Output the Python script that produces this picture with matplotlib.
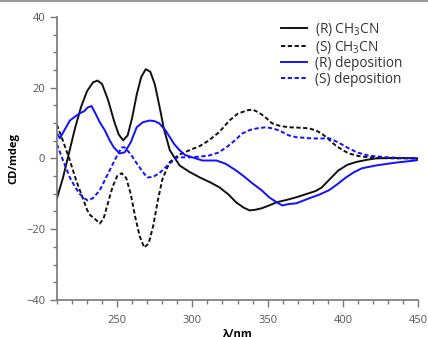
import matplotlib
matplotlib.use("Agg")
import matplotlib.pyplot as plt
from matplotlib.lines import Line2D
from matplotlib.ticker import MultipleLocator

plt.rcParams["font.family"] = ["Open Sans", "DejaVu Sans"]
plt.rcParams["mathtext.fontset"] = "custom"
plt.rcParams["mathtext.rm"] = "Open Sans"

# (R) CH3CN
r_acn_x = [210, 214, 218, 222, 226, 230, 234, 237, 240, 244, 248, 251, 254, 257, 260, 263, 266, 269, 272,
           275, 278, 281, 285, 291.5, 298, 305, 312, 318, 324, 329, 334, 338, 342, 346, 351, 356, 362, 369,
           377, 382, 386, 391, 397, 403, 409, 416, 422, 430, 440, 450]
r_acn_y = [-11.3, -5.5, 1.5, 8.5, 14.5, 19.0, 21.5, 22.0, 21.0, 16.5, 10.5, 6.8, 5.1, 6.5, 11.5, 18.0, 23.0,
           25.2, 24.5, 21.0, 15.0, 8.5, 2.3, -2.0, -3.8, -5.4, -6.8, -8.2, -10.2, -12.4, -13.9, -14.7,
           -14.5, -14.1, -13.3, -12.4, -11.8, -11.0, -9.9, -9.2, -8.2, -6.0, -3.4, -1.8, -1.0, -0.4, 0.0,
           0.1, 0.1, 0.0]

# (S) CH3CN
s_acn_x = [210, 214, 218.6, 223, 227, 230, 232, 235, 238.5, 241, 244, 247, 250, 253, 256, 259, 262, 265,
           268, 271, 274, 277, 280, 284.8, 291, 298, 305, 311, 318, 324.6, 330, 336.5, 340, 344, 348, 353,
           358, 364, 370, 377.5, 382, 386, 390, 395, 400, 404, 410, 417, 425, 435, 450]
s_acn_y = [9.5, 5.0, -0.6, -6.5, -11.0, -14.5, -16.0, -17.0, -18.4, -17.0, -12.5, -8.0, -5.0, -4.2, -5.5,
           -10.0, -16.5, -22.0, -25.2, -24.0, -19.0, -12.0, -6.0, -1.1, 1.0, 2.3, 3.5, 5.1, 7.5, 10.7, 12.6,
           13.6, 13.8, 13.0, 11.8, 9.9, 9.2, 8.8, 8.7, 8.5, 7.9, 7.0, 5.6, 3.7, 2.3, 1.4, 0.7, 0.3, 0.1, 0.0,
           0.0]

# (R) deposition
r_dep_x = [210, 212, 215, 218.6, 222, 225, 228, 230.5, 233, 235, 238.5, 242, 245, 248, 251.7, 255, 259, 263,
           267, 271.6, 275, 278, 282, 285, 288, 291.5, 295, 300, 306.7, 312, 316, 322, 329, 334, 340, 346,
           351, 356, 359.7, 364, 369, 377.5, 384, 390.8, 396, 402, 407, 412.6, 422, 430, 437, 448, 450]
r_dep_y = [7.1, 5.7, 8.0, 10.7, 11.8, 12.7, 13.3, 14.4, 14.8, 13.2, 10.2, 7.8, 5.1, 3.0, 1.4, 1.7, 4.5, 8.8,
           10.2, 10.7, 10.5, 9.9, 8.0, 6.0, 4.0, 2.3, 1.0, 0.3, -0.6, -0.6, -0.6, -1.5, -3.4, -5.0, -7.1,
           -9.0, -11.0, -12.4, -13.3, -12.9, -12.7, -11.3, -10.3, -9.0, -7.4, -5.4, -4.0, -2.8, -2.0, -1.5,
           -1.1, -0.6, -0.4]

# (S) deposition
s_dep_x = [210, 214, 218.6, 222, 225, 228, 230.5, 234, 238.5, 242, 245, 249, 253, 255, 259, 263, 267, 270,
           274, 278, 282, 285, 290, 298, 305, 311, 317, 322.6, 328, 333, 338, 343, 349, 353, 357.7, 364, 369,
           377.5, 384, 390.8, 397, 404, 410, 417, 424, 430, 440, 450]
s_dep_y = [4.0, -0.5, -5.4, -8.0, -10.0, -11.2, -11.9, -11.2, -9.0, -6.0, -3.4, 0.0, 3.1, 3.1, 1.2, -1.4,
           -3.8, -5.4, -5.2, -4.2, -2.6, -1.4, 0.3, 0.3, 0.5, 0.8, 1.6, 3.1, 5.0, 7.0, 8.0, 8.5, 8.8, 8.5, 7.9,
           6.5, 6.0, 5.7, 5.6, 5.7, 4.5, 2.8, 1.6, 0.8, 0.5, 0.3, 0.1, 0.0]

fig = plt.figure(figsize=(4.28, 3.37), dpi=100)
ax = fig.add_axes([0.133, 0.110, 0.844, 0.840])

ax.plot(r_acn_x, r_acn_y, color="#111111", lw=1.4, label="(R) CH$_3$CN")
ax.plot(s_acn_x, s_acn_y, color="#111111", lw=1.4, ls=(0, (2.2, 1.3)), label="(S) CH$_3$CN")
ax.plot(r_dep_x, r_dep_y, color="#1010ff", lw=1.4, label="(R) deposition")
ax.plot(s_dep_x, s_dep_y, color="#1010ff", lw=1.4, ls=(0, (2.2, 1.3)), label="(S) deposition")

ax.set_xlim(210, 450)
ax.set_ylim(-40, 40)
ax.xaxis.set_major_locator(MultipleLocator(50))
ax.xaxis.set_minor_locator(MultipleLocator(10))
ax.yaxis.set_major_locator(MultipleLocator(20))
ax.yaxis.set_minor_locator(MultipleLocator(5))

for s in ["top", "right"]:
    ax.spines[s].set_visible(False)
for s in ["left", "bottom"]:
    ax.spines[s].set_color("#777777")
    ax.spines[s].set_linewidth(1.2)

ax.tick_params(which="major", length=5, width=1, color="#777777", labelcolor="#555555", labelsize=8)
ax.tick_params(which="minor", length=3, width=1, color="#777777")
ax.tick_params(axis="x", pad=6)

ax.set_xlabel("λ/nm", fontsize=8, fontweight="bold", labelpad=2)
ax.set_ylabel("CD/mdeg", fontsize=8, fontweight="bold", labelpad=5)

leg = ax.legend(frameon=False, loc="upper left", bbox_to_anchor=(0.62, 0.985),
                borderaxespad=0, borderpad=0,
                fontsize=9.8, handlelength=1.9, handletextpad=0.6, labelspacing=0.04)
for t in leg.get_texts():
    t.set_color("#333333")

fig.add_artist(Line2D([0, 1], [0.997, 0.997], color="#999999", lw=1.5))

fig.savefig("out.png", dpi=100)
